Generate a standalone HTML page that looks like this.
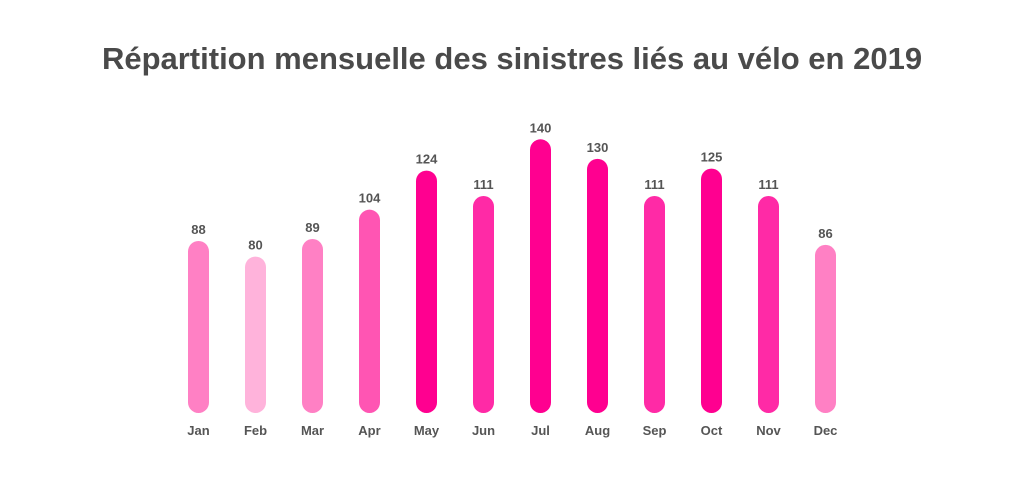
<!DOCTYPE html>
<html><head><meta charset="utf-8"><style>
body{margin:0;background:#fff;width:1024px;height:487px;overflow:hidden;font-family:"Liberation Sans",sans-serif}
</style></head><body>
<svg width="1024" height="487">
<text x="512" y="69" text-anchor="middle" font-size="31" font-weight="bold" fill="#4a4a4a">Répartition mensuelle des sinistres liés au vélo en 2019</text>
<g id="bars"></g>
</svg>
<script>
const months=["Jan","Feb","Mar","Apr","May","Jun","Jul","Aug","Sep","Oct","Nov","Dec"];
const values=[88,80,89,104,124,111,140,130,111,125,111,86];
const x=i=>198.5+i*57;
const y=v=>413-v*1.955;
function col(v){if(v<=82)return"#ffb3db";if(v<100)return"#ff80c4";if(v<108)return"#ff55b3";if(v<120)return"#ff2aa6";return"#ff0090";}
const g=document.getElementById('bars'),ns="http://www.w3.org/2000/svg";
values.forEach((v,i)=>{
 const r=document.createElementNS(ns,'rect');
 
 
 r.setAttribute('x',x(i)-10.5);r.setAttribute('width',21);
 r.setAttribute('y',y(v));r.setAttribute('height',413-y(v));
 r.setAttribute('rx',10.5);r.setAttribute('fill',col(v));g.appendChild(r);
 const t=document.createElementNS(ns,'text');
 
 
 t.setAttribute('x',x(i));t.setAttribute('y',y(v)-7);t.setAttribute('text-anchor','middle');
 t.setAttribute('font-size','13');t.setAttribute('font-weight','bold');t.setAttribute('fill','#555');
 t.textContent=v;g.appendChild(t);
 const m=document.createElementNS(ns,'text');
 
 
 m.setAttribute('x',x(i));m.setAttribute('y',435);m.setAttribute('text-anchor','middle');
 m.setAttribute('font-size','13');m.setAttribute('font-weight','bold');m.setAttribute('fill','#555');
 m.textContent=months[i];g.appendChild(m);
});
</script>
</body></html>
